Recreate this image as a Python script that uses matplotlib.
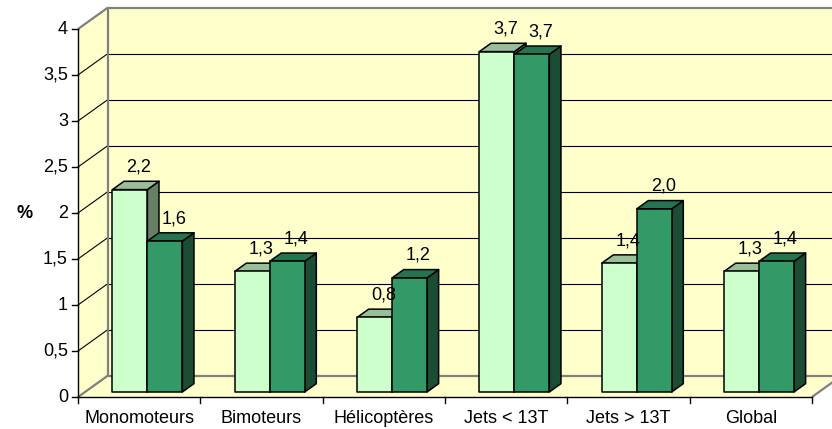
import matplotlib
matplotlib.use('Agg')
import matplotlib.pyplot as plt
from matplotlib.patches import Polygon

# ---------------- data ----------------
categories = ['Monomoteurs', 'Bimoteurs', 'Hélicoptères', 'Jets < 13T', 'Jets > 13T', 'Global']
series_light = [2.20, 1.31, 0.81, 3.70, 1.40, 1.31]
series_dark = [1.64, 1.42, 1.24, 3.67, 1.99, 1.42]
y_ticks = [0, 0.5, 1, 1.5, 2, 2.5, 3, 3.5, 4]
y_tick_labels = ['0', '0,5', '1', '1,5', '2', '2,5', '3', '3,5', '4']
y_label = '%'

# ---------------- style ----------------
plt.rcParams['font.family'] = ['Liberation Sans', 'DejaVu Sans']
FS = 13
WALL = '#FFFFCC'
EDGE_GRAY = '#808080'
LIGHT = ('#CCFFCC', '#99BF99', '#668066')   # front, top, side
DARK = ('#339966', '#267350', '#1A4D33')

PX_X = 122.33          # pixels per category
PX_Y = 92.0            # pixels per value unit
DX = 30 / PX_X         # depth offset (x) of back wall
DY = 21.5 / PX_Y       # depth offset (y) of back wall
F0, F1 = 0.233, 0.62   # bar front/back depth fraction
BW = 0.286             # bar width (category units)
CTR = 0.51             # pair centre within category
YMAX = 4
N = len(categories)

fig = plt.figure(figsize=(8.32, 4.29), dpi=100)
ax = fig.add_axes([0, 0, 1, 1])
ax.set_xlim(-78 / PX_X, (832 - 78) / PX_X)
ax.set_ylim(-32 / PX_Y, 397 / PX_Y)
ax.axis('off')

# walls and floor
back = [(DX, DY), (N + DX, DY), (N + DX, YMAX + DY), (DX, YMAX + DY)]
side = [(0, 0), (DX, DY), (DX, YMAX + DY), (0, YMAX)]
floor = [(0, 0), (N, 0), (N + DX, DY), (DX, DY)]
for poly in (back, side, floor):
    ax.add_patch(Polygon(poly, closed=True, facecolor=WALL, edgecolor='none', zorder=0))

# gridlines
for v in y_ticks[1:-1]:
    ax.plot([DX, N + DX], [v + DY, v + DY], color='black', lw=0.8, zorder=1)
    ax.plot([0, DX], [v, v + DY], color='black', lw=0.8, zorder=1)

# gray wall edges
edges = [
    ([DX, DX], [DY, YMAX + DY]),
    ([DX, N + DX], [YMAX + DY, YMAX + DY]),
    ([0, DX], [YMAX, YMAX + DY]),
    ([0, DX], [0, DY]),
    ([DX, N + DX], [DY, DY]),
    ([N, N + DX], [0, DY]),
]
for xs, ys in edges:
    ax.plot(xs, ys, color=EDGE_GRAY, lw=1.6, zorder=2, solid_capstyle='butt')

# front axes
ax.plot([0, 0], [0, YMAX], color='black', lw=1.0, zorder=2)
ax.plot([0, N], [0, 0], color='black', lw=1.0, zorder=2)
tick_x = 6 / PX_X
tick_y = 6 / PX_Y
for v, lab in zip(y_ticks, y_tick_labels):
    ax.plot([-tick_x, 0], [v, v], color='black', lw=1.0, zorder=2)
    ax.text(-10 / PX_X, v, lab, ha='right', va='center', fontsize=FS, zorder=5)
for i in range(N + 1):
    ax.plot([i, i], [0, -tick_y], color='black', lw=1.0, zorder=2)
for i, c in enumerate(categories):
    ax.text(i + 0.5, -26 / PX_Y, c, ha='center', va='baseline', fontsize=FS, zorder=5)
ax.text(-53 / PX_X, 2, y_label, ha='center', va='center', fontsize=FS, fontweight='bold')


def bar3d(x0, x1, h, cols, z):
    sx0, sy0 = F0 * DX, F0 * DY
    sx1, sy1 = F1 * DX, F1 * DY
    front = [(x0 + sx0, sy0), (x1 + sx0, sy0), (x1 + sx0, h + sy0), (x0 + sx0, h + sy0)]
    top = [(x0 + sx0, h + sy0), (x1 + sx0, h + sy0), (x1 + sx1, h + sy1), (x0 + sx1, h + sy1)]
    sidep = [(x1 + sx0, sy0), (x1 + sx1, sy1), (x1 + sx1, h + sy1), (x1 + sx0, h + sy0)]
    for poly, col in ((sidep, cols[2]), (top, cols[1]), (front, cols[0])):
        ax.add_patch(Polygon(poly, closed=True, facecolor=col, edgecolor='black',
                             lw=1.1, joinstyle='round', zorder=z))


def fmt(v):
    return f'{v:.1f}'.replace('.', ',')


z = 3
for i in range(N):
    left = i + CTR - BW
    for x0, h, cols in ((left, series_light[i], LIGHT), (left + BW, series_dark[i], DARK)):
        bar3d(x0, x0 + BW, h, cols, z)
        z += 1
        ax.text(x0 + BW / 2 + F0 * DX + 9 / PX_X, h + F0 * DY + 18 / PX_Y, fmt(h),
                ha='center', va='baseline', fontsize=FS, zorder=20)

fig.savefig('out.png', dpi=100)
